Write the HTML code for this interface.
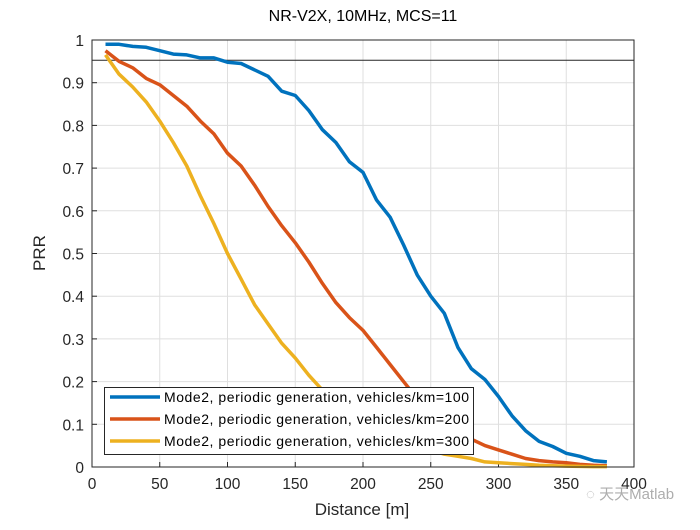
<!DOCTYPE html>
<html><head><meta charset="utf-8"><style>
body{margin:0;background:#fff;width:700px;height:525px;overflow:hidden}
svg{font-family:"Liberation Sans","Noto Sans CJK SC",sans-serif}
</style></head><body>
<svg id="s" width="700" height="525" xmlns="http://www.w3.org/2000/svg">
<rect width="700" height="525" fill="#fff"/>
<g id="grid" stroke="#dfdfdf" stroke-width="1"></g>
<g id="ticks" font-size="15.5" fill="#262626"></g>
<line x1="92" y1="60.3" x2="634" y2="60.3" stroke="#262626" stroke-width="1"/>
<g id="lines" fill="none" stroke-width="3.5" stroke-linejoin="round"></g>
<rect x="92" y="40" width="542" height="427" fill="none" stroke="#262626" stroke-width="1"/>
<text x="363" y="21" font-size="16" text-anchor="middle" fill="#000">NR-V2X, 10MHz, MCS=11</text>
<text x="362" y="515" font-size="17" text-anchor="middle" fill="#262626">Distance [m]</text>
<text transform="translate(45,253) rotate(-90)" font-size="17" text-anchor="middle" fill="#262626">PRR</text>
<g>
<rect x="104.5" y="387.5" width="369" height="67" fill="#fff" stroke="#262626" stroke-width="1"/>
<line x1="110" y1="397" x2="160" y2="397" stroke="#0072BD" stroke-width="3.5"/>
<line x1="110" y1="419" x2="160" y2="419" stroke="#D95319" stroke-width="3.5"/>
<line x1="110" y1="441" x2="160" y2="441" stroke="#EDB120" stroke-width="3.5"/>
<text x="164" y="402" font-size="14" fill="#000" textLength="305">Mode2, periodic generation, vehicles/km=100</text>
<text x="164" y="424" font-size="14" fill="#000" textLength="305">Mode2, periodic generation, vehicles/km=200</text>
<text x="164" y="446" font-size="14" fill="#000" textLength="305">Mode2, periodic generation, vehicles/km=300</text>
</g>
<text x="586" y="499" font-size="15" fill="#999" opacity="0.8">◌ 天天Matlab</text>
</svg>
<script>
var X=d=>92+d*542/400, Y=p=>467-p*427;
var ns="http://www.w3.org/2000/svg";
function el(t,a,p){var e=document.createElementNS(ns,t);for(var k in a)e.setAttribute(k,a[k]);document.getElementById(p).appendChild(e);return e;}
for(var i=0;i<=8;i++){var x=X(i*50);if(i>0&&i<8)el('line',{x1:x,y1:40,x2:x,y2:467},'grid');
 el('line',{x1:x,y1:467,x2:x,y2:462,stroke:'#262626'},'grid');
 var t=el('text',{x:x,y:489,'text-anchor':'middle'},'ticks');t.textContent=i*50;}
for(var j=0;j<=10;j++){var y=Y(j/10);if(j>0&&j<10)el('line',{x1:92,y1:y,x2:634,y2:y},'grid');
 el('line',{x1:92,y1:y,x2:97,y2:y,stroke:'#262626'},'grid');
 var t=el('text',{x:84,y:y+6,'text-anchor':'end'},'ticks');t.textContent=j==0?'0':j==10?'1':(j/10).toString();}
var b=[.99,.99,.985,.983,.975,.967,.965,.958,.958,.948,.945,.93,.915,.88,.87,.835,.79,.76,.715,.69,.625,.585,.52,.45,.40,.36,.28,.23,.205,.165,.12,.085,.06,.048,.032,.025,.015,.012];
var r=[.975,.95,.935,.91,.895,.87,.845,.81,.78,.735,.705,.66,.61,.565,.525,.48,.43,.385,.35,.32,.28,.24,.2,.16,.125,.1,.08,.065,.05,.04,.03,.02,.015,.012,.01,.006,.004,.003];
var yl=[.965,.92,.89,.855,.81,.76,.705,.635,.57,.5,.44,.38,.335,.29,.255,.215,.18,.15,.12,.095,.075,.06,.05,.045,.04,.03,.025,.02,.012,.01,.008,.006,.004,.003,.002,.0015,.001,.001];
[[b,'#0072BD'],[r,'#D95319'],[yl,'#EDB120']].forEach(function(s){
 var d=s[0].map((p,i)=>(i?'L':'M')+X(10+i*10).toFixed(1)+','+Y(p).toFixed(1)).join('');
 el('path',{d:d,stroke:s[1]},'lines');});
</script>
</body></html>
